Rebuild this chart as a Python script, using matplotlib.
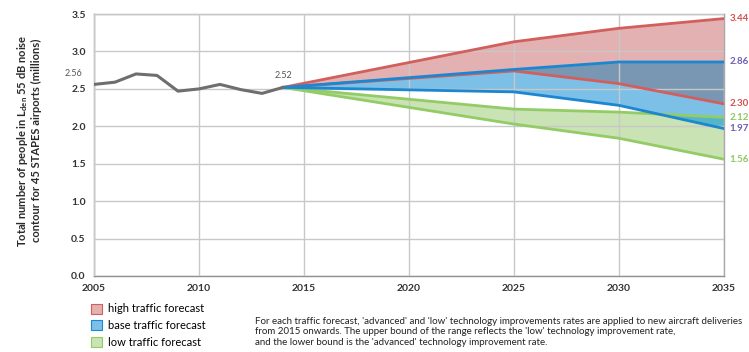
import numpy as np
import matplotlib.pyplot as plt
from matplotlib.patches import Patch

plt.rcParams['font.family'] = ['Lato', 'DejaVu Sans']

# historical noise exposure (millions of people)
hist_years = [2005, 2006, 2007, 2008, 2009, 2010, 2011, 2012, 2013, 2014]
hist_vals = [2.56, 2.59, 2.70, 2.68, 2.47, 2.50, 2.56, 2.49, 2.44, 2.52]

# forecast scenarios: upper bound = low tech improvement, lower = advanced
fc_years = [2014, 2025, 2030, 2035]
high_hi = [2.52, 3.13, 3.31, 3.44]
high_lo = [2.52, 2.74, 2.57, 2.30]
base_hi = [2.52, 2.76, 2.86, 2.86]
base_lo = [2.52, 2.46, 2.28, 1.97]
low_hi = [2.52, 2.23, 2.19, 2.12]
low_lo = [2.52, 2.03, 1.84, 1.56]

legend_labels = ['high traffic forecast', 'base traffic forecast', 'low traffic forecast']
note = ("For each traffic forecast, 'advanced' and 'low' technology improvements rates are applied to new aircraft deliveries\n"
        "from 2015 onwards. The upper bound of the range reflects the 'low' technology improvement rate,\n"
        "and the lower bound is the 'advanced' technology improvement rate.")

red_fill, red_line = '#e3b1b1', '#d25f5c'
blue_fill, blue_line = '#7dc0e7', '#1d86d0'
green_fill, green_line = '#c9e3b4', '#93cc66'
overlap_rb = '#7997b2'
overlap_gb = '#55b5c9'
grey = '#6e6e6e'
purple = '#6b5fb5'
red_txt = '#d0504e'
green_txt = '#8cc860'

fig = plt.figure(figsize=(7.49, 3.52), dpi=100)
ax = fig.add_axes([0.1255, 0.216, 0.8411, 0.744])

x = np.array(fc_years)
hh, hl = np.array(high_hi), np.array(high_lo)
bh, bl = np.array(base_hi), np.array(base_lo)
lh, ll = np.array(low_hi), np.array(low_lo)

ax.fill_between(x, ll, lh, color=green_fill, lw=0, zorder=1)
ax.fill_between(x, bl, bh, color=blue_fill, lw=0, zorder=1.1)
ax.fill_between(x, hl, hh, color=red_fill, lw=0, zorder=1.2)

# overlapping parts of the ranges
lo = np.maximum(hl, bl)
hi = np.minimum(hh, bh)
ax.fill_between(x, lo, hi, where=hi > lo, interpolate=True, color=overlap_rb, lw=0, zorder=1.3)
lo = np.maximum(ll, bl)
hi = np.minimum(lh, bh)
ax.fill_between(x, lo, hi, where=hi > lo, interpolate=True, color=overlap_gb, lw=0, zorder=1.3)

ax.plot(x, lh, color=green_line, lw=2, zorder=3)
ax.plot(x, ll, color=green_line, lw=2, zorder=3)
ax.plot(x, hh, color=red_line, lw=2, zorder=3.1)
ax.plot(x, hl, color=red_line, lw=2, zorder=3.1)
ax.plot(x, bh, color=blue_line, lw=2, zorder=3.2)
ax.plot(x, bl, color=blue_line, lw=2, zorder=3.2)
ax.plot(hist_years, hist_vals, color=grey, lw=2.2, zorder=4, solid_joinstyle='round')

ax.set_xlim(2005, 2035)
ax.set_ylim(0, 3.5)
ax.set_xticks(range(2005, 2036, 5))
ax.set_yticks(np.arange(0, 3.51, 0.5))
ax.set_yticklabels([f'{v:.1f}' for v in np.arange(0, 3.51, 0.5)])
ax.tick_params(length=0, labelsize=7.5, colors='#333333', pad=6)
for lab in ax.get_xticklabels() + ax.get_yticklabels():
    lab.set_fontweight('bold')
ax.grid(True, color='#c8c8c8', lw=1.0, zorder=2)
ax.set_axisbelow(False)
for sp in ax.spines.values():
    sp.set_color('#a8a8a8')
    sp.set_linewidth(1.0)
ax.spines['left'].set_color('#909090')
ax.spines['bottom'].set_color('#909090')

# value labels
ax.annotate(f'{hist_vals[0]:.2f}', (hist_years[0], hist_vals[0]), xytext=(-15, 6),
            textcoords='offset points', fontsize=6.5, color='#555555', ha='center', annotation_clip=False)
ax.annotate(f'{hist_vals[-1]:.2f}', (hist_years[-1], hist_vals[-1]), xytext=(0, 7),
            textcoords='offset points', fontsize=6.5, color='#555555', ha='center')
ends = [(high_hi[-1], red_txt), (base_hi[-1], purple), (high_lo[-1], red_txt),
        (low_hi[-1], green_txt), (base_lo[-1], purple), (low_lo[-1], green_txt)]
for val, c in ends:
    ax.annotate(f'{val:.2f}', (fc_years[-1], val), xytext=(4, 0), textcoords='offset points',
                fontsize=7, color=c, va='center', fontweight='bold', annotation_clip=False)

fig.text(0.038, 0.6, 'Total number of people in L$_{\\mathregular{den}}$ 55 dB noise\ncontour for 45 STAPES airports (millions)',
         rotation=90, ha='center', va='center', fontsize=8, fontweight='bold', color='#2a2a2a',
         linespacing=1.1)

handles = [Patch(facecolor=red_fill, edgecolor=red_line, lw=0.8),
           Patch(facecolor=blue_fill, edgecolor=blue_line, lw=0.8),
           Patch(facecolor=green_fill, edgecolor=green_line, lw=0.8)]
fig.legend(handles, legend_labels, loc='upper left', bbox_to_anchor=(0.122, 0.138),
           frameon=False, fontsize=8, handlelength=1.0, handleheight=1.0,
           handletextpad=0.5, labelspacing=0.5, borderaxespad=0, borderpad=0)

fig.text(0.34, 0.057, note, fontsize=7, color='#222222', va='center', ha='left', linespacing=1.2)

fig.savefig('out.png', dpi=100)
